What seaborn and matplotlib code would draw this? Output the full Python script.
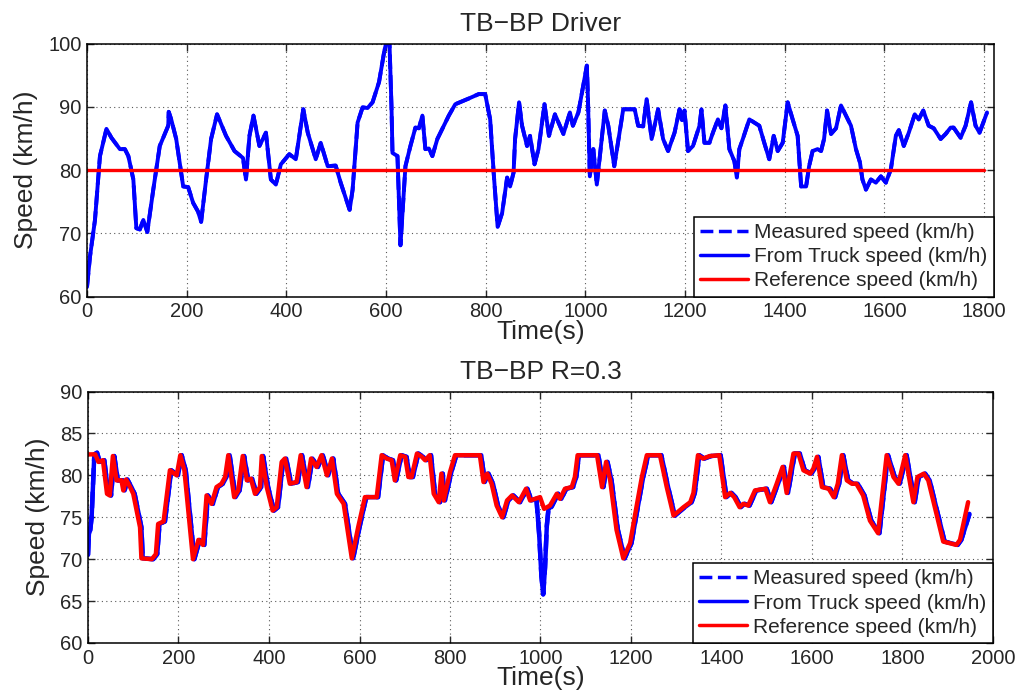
import numpy as np
import matplotlib
matplotlib.use("Agg")
import matplotlib.pyplot as plt
import seaborn as sns

# ---- top panel : TB-BP Driver ----
drv_time = [0, 6, 16, 26, 39, 49, 66, 76, 83, 93, 99, 106, 113, 121, 133, 146, 163, 164, 169, 179,
            193, 203, 213, 223, 229, 239, 249, 261, 279, 296, 313, 319, 326, 334, 346, 359, 369, 379,
            389, 406, 419, 434, 443, 459, 469, 483, 499, 509, 527, 533, 543, 553, 563, 573, 586, 597,
            602, 607, 611, 613, 623, 629, 639, 649, 659, 666, 673, 679, 686, 693, 703, 713, 726, 739,
            766, 786, 799, 809, 816, 824, 833, 843, 849, 856, 859, 867, 873, 883, 889, 898, 906, 913,
            918, 927, 939, 956, 969, 975, 986, 1003, 1005, 1009, 1016, 1023, 1039, 1046, 1058, 1076,
            1099, 1106, 1116, 1123, 1133, 1146, 1156, 1166, 1179, 1189, 1194, 1199, 1206, 1216, 1229,
            1233, 1239, 1249, 1256, 1266, 1273, 1281, 1289, 1299, 1304, 1309, 1316, 1329, 1339, 1349,
            1359, 1369, 1378, 1386, 1396, 1406, 1416, 1426, 1433, 1443, 1449, 1456, 1466, 1473, 1479,
            1485, 1493, 1503, 1513, 1523, 1533, 1543, 1551, 1556, 1563, 1573, 1583, 1593, 1603, 1613,
            1623, 1629, 1639, 1649, 1661, 1669, 1678, 1689, 1699, 1713, 1723, 1733, 1739, 1753, 1763,
            1774, 1783, 1791, 1806]
drv_speed = [61.5, 66.3, 72.1, 82.2, 86.5, 85.1, 83.3, 83.3, 82.2, 78.5, 70.8, 70.6, 72.1, 70.2, 76.9,
             83.8, 87.0, 89.2, 88.0, 84.9, 77.4, 77.3, 74.8, 73.4, 71.8, 78.5, 84.9, 88.8, 85.4, 83.0,
             81.9, 78.5, 85.4, 88.6, 83.8, 85.9, 78.5, 77.7, 80.9, 82.5, 81.7, 89.6, 85.9, 81.7, 84.3,
             80.6, 80.7, 78.0, 73.7, 76.9, 87.5, 89.9, 89.8, 90.7, 93.9, 99.0, 100.5, 100.0, 90.0,
             82.7, 82.2, 68.1, 80.6, 83.8, 86.7, 86.6, 88.6, 83.3, 83.4, 82.2, 84.9, 86.5, 88.6, 90.4,
             91.3, 92.0, 92.0, 88.0, 79.6, 71.0, 73.2, 78.8, 77.4, 79.6, 84.9, 90.7, 87.0, 83.8, 85.4,
             80.9, 83.3, 87.5, 90.4, 85.4, 88.8, 85.7, 89.1, 87.0, 89.1, 96.5, 92.0, 79.0, 83.3, 77.7,
             89.4, 87.0, 80.6, 89.6, 89.6, 87.0, 86.9, 91.2, 84.9, 89.6, 84.9, 83.0, 85.9, 89.6, 87.9,
             89.4, 83.0, 83.8, 87.0, 89.6, 84.3, 84.3, 85.9, 88.0, 86.6, 90.2, 83.3, 81.4, 78.8, 83.3,
             84.9, 88.0, 87.5, 87.0, 84.3, 81.7, 85.4, 83.0, 84.3, 90.7, 88.0, 85.4, 77.4, 77.4, 80.6,
             83.0, 83.3, 83.0, 84.9, 89.4, 85.7, 86.6, 90.2, 88.6, 87.0, 83.3, 81.2, 78.5, 76.9, 78.5,
             78.0, 79.0, 78.0, 80.1, 85.4, 86.3, 83.8, 85.9, 88.8, 88.0, 89.4, 87.0, 86.6, 84.9, 85.7,
             86.7, 86.7, 85.1, 87.0, 90.7, 87.0, 85.9, 89.1]
drv_ref_time = [0, 1800]
drv_ref_speed = [80, 80]

# ---- bottom panel : TB-BP R=0.3 ----
r03_ref_time = [0, 16, 23, 33, 42, 48, 55, 63, 74, 78, 84, 93, 100, 115, 118, 141, 150, 155, 167, 181,
                196, 204, 213, 218, 232, 244, 254, 262, 273, 284, 295, 303, 310, 323, 332, 342, 351,
                360, 369, 380, 384, 395, 408, 417, 428, 435, 446, 461, 470, 483, 493, 505, 516, 528,
                539, 550, 565, 583, 597, 612, 638, 649, 660, 671, 678, 690, 701, 708, 715, 727, 738,
                745, 755, 764, 775, 781, 786, 800, 811, 866, 874, 882, 892, 903, 915, 926, 937, 952,
                968, 977, 999, 1008, 1021, 1036, 1043, 1054, 1069, 1076, 1082, 1125, 1136, 1145, 1154,
                1168, 1183, 1198, 1212, 1224, 1235, 1264, 1279, 1294, 1316, 1331, 1338, 1348, 1359,
                1374, 1395, 1408, 1419, 1428, 1440, 1448, 1459, 1474, 1497, 1507, 1522, 1535, 1544,
                1559, 1570, 1581, 1596, 1603, 1611, 1622, 1637, 1648, 1657, 1666, 1677, 1688, 1698,
                1713, 1728, 1746, 1765, 1780, 1791, 1806, 1824, 1833, 1847, 1857, 1875, 1890, 1919,
                1927, 1945]
r03_ref_speed = [82.5, 82.5, 81.6, 81.8, 77.8, 77.6, 82.3, 79.4, 79.4, 78.2, 79.5, 78.6, 77.8, 73.8,
                 70.1, 70.0, 70.6, 74.2, 74.5, 80.6, 80.0, 82.4, 80.6, 77.8, 70.0, 72.3, 71.7, 77.6,
                 76.6, 78.6, 79.0, 79.8, 82.4, 77.4, 78.2, 82.3, 79.4, 79.6, 77.8, 78.6, 82.3, 78.6,
                 75.8, 76.2, 81.6, 82.0, 79.0, 79.2, 82.4, 78.6, 82.0, 81.0, 82.4, 80.0, 82.0, 77.8,
                 76.6, 70.1, 73.8, 77.4, 77.4, 82.4, 82.0, 81.8, 79.4, 82.4, 82.2, 79.8, 79.8, 82.6,
                 82.2, 81.8, 82.4, 77.8, 76.8, 80.2, 77.0, 80.4, 82.4, 82.4, 79.2, 80.2, 79.0, 76.4,
                 75.0, 77.0, 77.6, 76.8, 78.4, 77.0, 77.4, 76.0, 76.4, 77.8, 77.2, 78.4, 78.6, 79.8,
                 82.4, 82.4, 78.6, 81.6, 79.4, 73.5, 70.1, 71.9, 76.2, 79.8, 82.4, 82.4, 78.6, 75.2,
                 76.2, 76.8, 77.9, 82.4, 82.0, 82.3, 82.4, 77.4, 77.9, 77.4, 76.2, 76.6, 76.4, 78.2,
                 78.4, 76.8, 79.0, 81.0, 77.9, 82.6, 82.6, 80.6, 80.2, 80.8, 82.2, 78.6, 78.4, 77.4,
                 79.0, 82.4, 79.4, 79.0, 79.0, 77.6, 74.6, 73.1, 82.4, 79.8, 79.0, 82.4, 76.8, 79.8,
                 80.2, 79.4, 75.4, 72.1, 71.7, 72.3, 76.8]

r03_truck_time = [0, 2, 5, 8, 14, 20, 26, 36, 45, 51, 58, 66, 77, 81, 87, 96, 103, 118, 121, 144, 153,
                  158, 170, 184, 199, 207, 216, 221, 235, 247, 257, 265, 276, 287, 298, 306, 313, 326,
                  335, 345, 354, 363, 372, 383, 387, 398, 411, 420, 431, 438, 449, 464, 473, 486, 496,
                  508, 519, 531, 542, 553, 568, 586, 600, 615, 641, 652, 663, 674, 681, 693, 704, 711,
                  718, 730, 741, 748, 758, 767, 778, 784, 789, 803, 814, 869, 877, 885, 895, 906, 918,
                  929, 940, 955, 971, 980, 991, 997, 1002, 1006, 1010, 1014, 1018, 1024, 1039, 1046,
                  1057, 1072, 1079, 1085, 1128, 1139, 1148, 1157, 1171, 1186, 1201, 1215, 1227, 1238,
                  1267, 1282, 1297, 1319, 1334, 1341, 1351, 1362, 1377, 1398, 1411, 1422, 1431, 1443,
                  1451, 1462, 1477, 1500, 1510, 1525, 1538, 1547, 1562, 1573, 1584, 1599, 1606, 1614,
                  1625, 1640, 1651, 1660, 1669, 1680, 1691, 1701, 1716, 1731, 1749, 1768, 1783, 1794,
                  1809, 1827, 1836, 1850, 1860, 1878, 1893, 1922, 1930, 1948]
r03_truck_speed = [70.5, 73.0, 73.5, 75.0, 82.5, 82.7, 81.6, 81.8, 77.8, 77.6, 82.3, 79.4, 79.4, 78.2,
                   79.5, 78.6, 77.8, 73.8, 70.1, 70.0, 70.6, 74.2, 74.5, 80.6, 80.0, 82.4, 80.6, 77.8,
                   70.0, 72.3, 71.7, 77.6, 76.6, 78.6, 79.0, 79.8, 82.4, 77.4, 78.2, 82.3, 79.4, 79.6,
                   77.8, 78.6, 82.3, 78.6, 75.8, 76.2, 81.6, 82.0, 79.0, 79.2, 82.4, 78.6, 82.0, 81.0,
                   82.4, 80.0, 82.0, 77.8, 76.6, 70.1, 73.8, 77.4, 77.4, 82.4, 82.0, 81.8, 79.4, 82.4,
                   82.2, 79.8, 79.8, 82.6, 82.2, 81.8, 82.4, 77.8, 76.8, 80.2, 77.0, 80.4, 82.4, 82.4,
                   79.2, 80.2, 79.0, 76.4, 75.0, 77.0, 77.6, 76.8, 78.4, 77.0, 77.2, 73.0, 68.0, 65.8,
                   69.0, 74.0, 76.2, 76.2, 77.8, 77.2, 78.4, 78.6, 79.8, 82.4, 82.4, 78.6, 81.6, 79.4,
                   73.5, 70.1, 71.9, 76.2, 79.8, 82.4, 82.4, 78.6, 75.2, 76.2, 76.8, 77.9, 82.4, 82.0,
                   82.3, 82.4, 77.4, 77.9, 77.4, 76.2, 76.6, 76.4, 78.2, 78.4, 76.8, 79.0, 81.0, 77.9,
                   82.6, 82.6, 80.6, 80.2, 80.8, 82.2, 78.6, 78.4, 77.4, 79.0, 82.4, 79.4, 79.0, 79.0,
                   77.6, 74.6, 73.1, 82.4, 79.8, 79.0, 82.4, 76.8, 79.8, 80.2, 79.4, 75.4, 72.1, 71.7,
                   72.3, 75.4]

labels = ["Measured speed (km/h)", "From Truck speed (km/h)", "Reference speed (km/h)"]
titles = ["TB\u2212BP Driver", "TB\u2212BP R=0.3"]

sns.set_style("ticks")
plt.rcParams["font.family"] = ["Liberation Sans", "DejaVu Sans"]
plt.rcParams["axes.unicode_minus"] = True

BLUE = "#0000ff"
RED = "#ff0000"

fig = plt.figure(figsize=(10.2, 6.95), dpi=100)
ax1 = fig.add_axes([87 / 1020, 1 - 296.5 / 695, 907 / 1020, 253 / 695])
ax2 = fig.add_axes([88 / 1020, 1 - 643 / 695, 905 / 1020, 251.5 / 695])

kw = dict(sort=False, estimator=None, solid_joinstyle="round", dash_joinstyle="round")

# top: measured (dashed) hidden under truck speed, reference on top
sns.lineplot(x=drv_time, y=drv_speed, ax=ax1, color=BLUE, lw=2.8, linestyle="--",
             label=labels[0], **kw)
sns.lineplot(x=drv_time, y=drv_speed, ax=ax1, color=BLUE, lw=2.8, label=labels[1], **kw)
sns.lineplot(x=drv_ref_time, y=drv_ref_speed, ax=ax1, color=RED, lw=2.4, label=labels[2], **kw)

sns.lineplot(x=r03_truck_time, y=r03_truck_speed, ax=ax2, color=BLUE, lw=3.2, linestyle="--",
             label=labels[0], **kw)
sns.lineplot(x=r03_truck_time, y=r03_truck_speed, ax=ax2, color=BLUE, lw=3.2, label=labels[1], **kw)
sns.lineplot(x=r03_ref_time, y=r03_ref_speed, ax=ax2, color=RED, lw=3.2, label=labels[2], **kw)

ax1.set_xlim(0, 1820)
ax1.set_ylim(60, 100)
ax1.set_xticks(np.arange(0, 1801, 200))
ax1.set_yticks(np.arange(60, 101, 10))

ax2.set_xlim(0, 2000)
ax2.set_ylim(60, 90)
ax2.set_xticks(np.arange(0, 2001, 200))
ax2.set_yticks(np.arange(60, 91, 5))

for ax, title in zip([ax1, ax2], titles):
    ax.set_title(title, fontsize=19, pad=9)
    ax.set_xlabel("Time(s)", fontsize=19, labelpad=-1)
    ax.set_ylabel("Speed (km/h)", fontsize=19, labelpad=7)
    ax.grid(True, linestyle=(0, (1, 3)), color="0.35", lw=0.8)
    ax.tick_params(direction="in", top=True, right=True, length=5, width=1,
                   labelsize=14.5, pad=4)
    for s in ax.spines.values():
        s.set_linewidth(1.1)
        s.set_color("black")
    leg = ax.legend(loc="lower right", fontsize=15, frameon=True, fancybox=False,
                    framealpha=1, edgecolor="black", borderaxespad=0.0,
                    handlelength=2.3, handletextpad=0.3, labelspacing=0.25,
                    borderpad=0.3)
    leg.get_frame().set_linewidth(1.1)
    for h in leg.get_lines():
        h.set_linewidth(2.5)

fig.savefig("out.png", dpi=100)
